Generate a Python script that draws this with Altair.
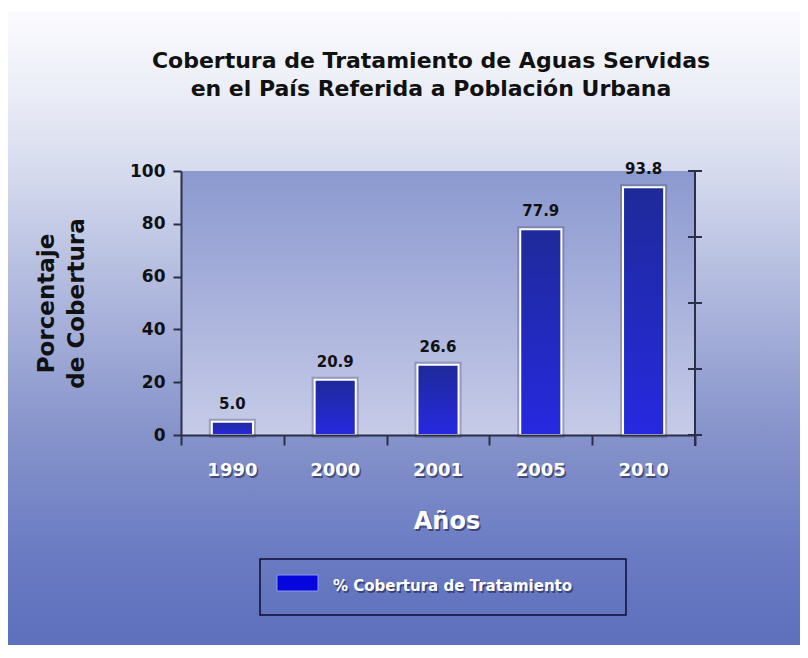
import altair as alt
import pandas as pd

# ---- data ----
years = ["1990", "2000", "2001", "2005", "2010"]
coverage = [5.0, 20.9, 26.6, 77.9, 93.8]
y_tick_values = [0, 20, 40, 60, 80, 100]
right_tick_values = [0, 25, 50, 75, 100]
title_lines = ["Cobertura de Tratamiento de Aguas Servidas",
               "en el País Referida a Población Urbana"]
y_title = ["Porcentaje", "de Cobertura"]
x_title = "Años"
legend_label = "% Cobertura de Tratamiento"

# ---- layout / style ----
W, H = 514, 264
PAD = {"left": 173, "top": 163, "right": 105, "bottom": 210}
FONT = "DejaVu Sans"
AXIS = "#2b2f48"
SHADOW = "#1d2144"

df = pd.DataFrame({"year": years, "value": coverage})
rt = pd.DataFrame({"value": right_tick_values})
one = alt.Data(values=[{"k": 0}])


def grad(stops):
    return alt.Gradient(
        gradient="linear", x1=0, x2=0, y1=0, y2=1,
        stops=[alt.GradientStop(color=c, offset=o) for o, c in stops],
    )


xscale = alt.Scale(domain=years, paddingInner=0, paddingOuter=0)
yscale = alt.Scale(domain=[0, 100], nice=False)

x_axis = alt.Axis(labels=False, title=None, tickBand="extent", tickSize=10,
                  tickWidth=2, tickColor=AXIS, domainColor=AXIS, domainWidth=2,
                  grid=False, zindex=1)
y_axis = alt.Axis(values=y_tick_values, title=y_title, titleFont=FONT,
                  titleFontSize=23, titleFontWeight="bold", titleColor="#111111",
                  titleAngle=270, titleX=-128, titleY=H / 2, titleAlign="center",
                  titleBaseline="alphabetic", titleLineHeight=30,
                  labelFont=FONT, labelFontSize=17, labelFontWeight="bold",
                  labelColor="#111111", labelPadding=8, tickSize=8, tickWidth=2,
                  tickColor=AXIS, domainColor=AXIS, domainWidth=2, grid=False,
                  zindex=1)

X = alt.X("year:N", scale=xscale, axis=x_axis)
Y = alt.Y("value:Q", scale=yscale, axis=y_axis)

bg = alt.Chart(one).mark_rect(fill=grad([
    (0, "#fbfbfe"), (0.12, "#eceef7"), (0.25, "#d6dbee"), (0.45, "#aeb7dd"),
    (0.66, "#8794cb"), (0.85, "#6b7cc3"), (1, "#5e6fbd")])).encode(
    x=alt.value(-PAD["left"]), x2=alt.value(W + PAD["right"]),
    y=alt.value(-159), y2=alt.value(H + PAD["bottom"]))

plotbg = alt.Chart(one).mark_rect(fill=grad([
    (0, "#8b99cf"), (0.5, "#a9b2dc"), (1, "#c6cbe7")])).encode(
    x=alt.value(0), x2=alt.value(W), y=alt.value(0), y2=alt.value(H))

base = alt.Chart(df)
bars = base.mark_bar(width=alt.RelativeBandSize(0.4),
                     fill=grad([(0, "#1e2a99"), (1, "#2629e0")]),
                     stroke="white", strokeWidth=2).encode(x=X, y=Y)
bar_shadow = base.mark_bar(width=alt.RelativeBandSize(0.4), fillOpacity=0,
                           stroke="#3a3f60", strokeOpacity=0.3,
                           strokeWidth=6).encode(x=X, y=Y)
vlabels = base.mark_text(font=FONT, fontSize=15, fontWeight="bold",
                         color="#111111", baseline="alphabetic", dy=-13).encode(
    x=X, y=Y, text=alt.Text("value:Q", format=".1f"))

xlab_sh = base.mark_text(font=FONT, fontSize=18, fontWeight="bold", color=SHADOW,
                         opacity=0.6, baseline="alphabetic", dx=1.5, dy=1.5).encode(
    x=X, y=alt.value(H + 41), text="year:N")
xlab = base.mark_text(font=FONT, fontSize=18, fontWeight="bold", color="white",
                      baseline="alphabetic").encode(
    x=X, y=alt.value(H + 41), text="year:N")

xt_sh = alt.Chart(one).mark_text(text=x_title, font=FONT, fontSize=24,
                                 fontWeight="bold", color=SHADOW, opacity=0.6,
                                 baseline="alphabetic", align="center",
                                 dx=1.5, dy=1.5).encode(
    x=alt.value(266), y=alt.value(H + 94))
xt = alt.Chart(one).mark_text(text=x_title, font=FONT, fontSize=24,
                              fontWeight="bold", color="white",
                              baseline="alphabetic", align="center").encode(
    x=alt.value(266), y=alt.value(H + 94))

right_rule = alt.Chart(one).mark_rule(color=AXIS, strokeWidth=2).encode(
    x=alt.value(W), y=alt.value(0), y2=alt.value(H + 11))
right_ticks = alt.Chart(rt).mark_rule(color=AXIS, strokeWidth=2).encode(
    x=alt.value(W - 7), x2=alt.value(W + 7), y=Y)

leg_box = alt.Chart(one).mark_rect(fillOpacity=0, stroke="#0c0c35",
                                   strokeWidth=1.5).encode(
    x=alt.value(79), x2=alt.value(445), y=alt.value(388), y2=alt.value(444))
leg_sw = alt.Chart(one).mark_rect(fill="#0505dd", stroke="#8c98e8",
                                  strokeWidth=1).encode(
    x=alt.value(96), x2=alt.value(137), y=alt.value(404), y2=alt.value(420))
leg_sh = alt.Chart(one).mark_text(text=legend_label, font=FONT, fontSize=15,
                                  fontWeight="bold", color=SHADOW, opacity=0.6,
                                  align="left", baseline="alphabetic",
                                  dx=1.5, dy=1.5).encode(
    x=alt.value(152), y=alt.value(420))
leg_tx = alt.Chart(one).mark_text(text=legend_label, font=FONT, fontSize=15,
                                  fontWeight="bold", color="white",
                                  align="left", baseline="alphabetic").encode(
    x=alt.value(152), y=alt.value(420))

title = alt.Chart(one).mark_text(text=title_lines, font=FONT, fontSize=22,
                                 fontWeight="bold", color="#111111",
                                 lineHeight=28, align="center",
                                 baseline="alphabetic").encode(
    x=alt.value(W / 2 - 7), y=alt.value(-103))

chart = alt.layer(
    bg, plotbg, bar_shadow, bars, vlabels, xlab_sh, xlab, xt_sh, xt,
    right_rule, right_ticks, leg_box, leg_sw, leg_sh, leg_tx, title,
).properties(
    width=W, height=H,
    autosize=alt.AutoSizeParams(type="none"),
    padding=PAD,
).configure(background="white").configure_view(stroke=None)

chart.save("out.html", embed_options={"renderer": "svg", "actions": False})
